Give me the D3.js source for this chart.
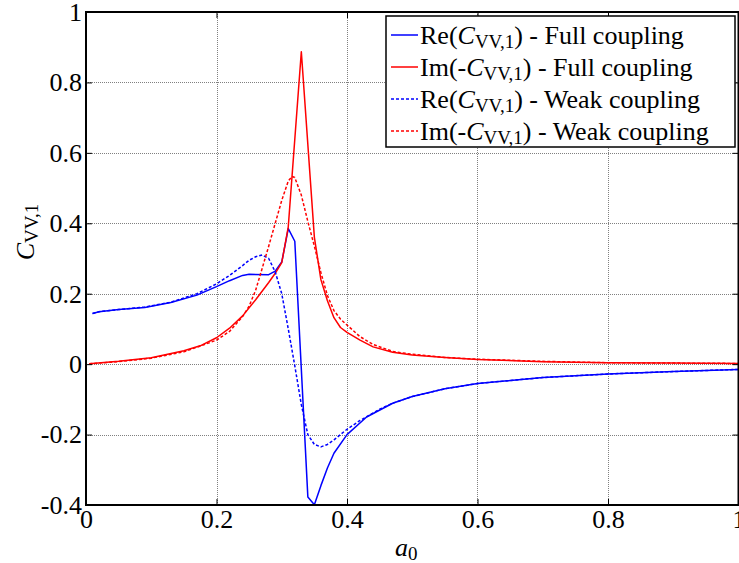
<!DOCTYPE html>
<html>
<head>
<meta charset="utf-8">
<script src="https://cdn.jsdelivr.net/npm/d3@7"></script>
<style>
  html, body { margin: 0; padding: 0; background: #fff; }
  svg { display: block; }
</style>
</head>
<body>
<svg id="chart" width="739" height="563"></svg>
<script>
// Frequency samples (a0) and coefficient values for each series
const reFullA = [0.01, 0.02, 0.05, 0.09, 0.13, 0.17, 0.20, 0.22, 0.24, 0.25, 0.28, 0.29, 0.30, 0.31, 0.32, 0.34, 0.35, 0.36, 0.37, 0.38, 0.40, 0.43, 0.47, 0.50, 0.55, 0.60, 0.70, 0.80, 0.90, 1.00];
const reFullV = [0.144, 0.149, 0.155, 0.161, 0.175, 0.196, 0.220, 0.237, 0.252, 0.255, 0.254, 0.264, 0.290, 0.385, 0.349, -0.377, -0.399, -0.345, -0.295, -0.253, -0.200, -0.150, -0.111, -0.092, -0.070, -0.055, -0.038, -0.028, -0.021, -0.015];

const imFullA = [0.005, 0.05, 0.10, 0.15, 0.175, 0.20, 0.22, 0.24, 0.26, 0.28, 0.29, 0.30, 0.31, 0.33, 0.35, 0.36, 0.37, 0.38, 0.39, 0.40, 0.42, 0.44, 0.47, 0.50, 0.55, 0.60, 0.70, 0.80, 0.90, 1.00];
const imFullV = [0.001, 0.008, 0.018, 0.038, 0.052, 0.075, 0.102, 0.137, 0.183, 0.232, 0.258, 0.288, 0.390, 0.887, 0.360, 0.240, 0.180, 0.132, 0.104, 0.090, 0.068, 0.049, 0.034, 0.026, 0.019, 0.013, 0.007, 0.004, 0.003, 0.002];

const reWeakA = [0.01, 0.02, 0.05, 0.09, 0.13, 0.17, 0.20, 0.22, 0.24, 0.25, 0.26, 0.27, 0.28, 0.29, 0.30, 0.31, 0.32, 0.33, 0.34, 0.35, 0.36, 0.37, 0.38, 0.39, 0.40, 0.42, 0.45, 0.47, 0.50, 0.55, 0.60, 0.70, 0.80, 0.90, 1.00];
const reWeakV = [0.144, 0.149, 0.155, 0.162, 0.176, 0.200, 0.228, 0.252, 0.280, 0.295, 0.305, 0.310, 0.300, 0.262, 0.200, 0.100, -0.005, -0.115, -0.200, -0.228, -0.235, -0.228, -0.215, -0.200, -0.185, -0.160, -0.128, -0.111, -0.092, -0.070, -0.055, -0.038, -0.028, -0.021, -0.015];

const imWeakA = [0.005, 0.05, 0.10, 0.15, 0.20, 0.22, 0.24, 0.25, 0.26, 0.27, 0.28, 0.29, 0.30, 0.31, 0.316, 0.32, 0.33, 0.34, 0.35, 0.36, 0.37, 0.38, 0.39, 0.40, 0.42, 0.44, 0.47, 0.50, 0.55, 0.60, 0.70, 0.80, 0.90, 1.00];
const imWeakV = [0.001, 0.007, 0.017, 0.035, 0.068, 0.093, 0.135, 0.165, 0.210, 0.272, 0.335, 0.400, 0.465, 0.520, 0.533, 0.530, 0.480, 0.405, 0.335, 0.260, 0.195, 0.152, 0.128, 0.111, 0.078, 0.056, 0.036, 0.028, 0.019, 0.014, 0.008, 0.004, 0.003, 0.002];

const xTicks = [0, 0.2, 0.4, 0.6, 0.8, 1];
const yTicks = [-0.4, -0.2, 0, 0.2, 0.4, 0.6, 0.8, 1];

const seriesNames = ["Full coupling", "Full coupling", "Weak coupling", "Weak coupling"];
const seriesParts = ["Re(", "Im(-", "Re(", "Im(-"];

const series = [
  { a: reFullA, v: reFullV, color: "#0000ff", dash: null },
  { a: imFullA, v: imFullV, color: "#ff0000", dash: null },
  { a: reWeakA, v: reWeakV, color: "#0000ff", dash: "3,2" },
  { a: imWeakA, v: imWeakV, color: "#ff0000", dash: "3,2" }
];

const serif = '"Liberation Serif", serif';
const mainSize = "26px", subSize = "19px";

const svg = d3.select("#chart");
const plotLeft = 86, plotRight = 738.5, plotTop = 12, plotBottom = 505;

const x = d3.scaleLinear().domain([0, 1]).range([plotLeft, plotRight]);
const y = d3.scaleLinear().domain([-0.4, 1]).range([plotBottom, plotTop]);

// Grid
const grid = svg.append("g").attr("stroke", "#808080").attr("stroke-width", 1).attr("stroke-dasharray", "1,1");
grid.selectAll("line.gx").data(xTicks.slice(1, -1)).join("line")
  .attr("x1", d => Math.round(x(d)) + 0.5).attr("x2", d => Math.round(x(d)) + 0.5)
  .attr("y1", plotTop).attr("y2", plotBottom);
grid.selectAll("line.gy").data(yTicks.slice(1, -1)).join("line")
  .attr("y1", d => Math.round(y(d)) + 0.5).attr("y2", d => Math.round(y(d)) + 0.5)
  .attr("x1", plotLeft).attr("x2", plotRight);

// Curves
const line = d3.line().x(d => x(d[0])).y(d => y(d[1]));
series.forEach(s => {
  svg.append("path")
    .datum(s.a.map((a, i) => [a, s.v[i]]))
    .attr("fill", "none")
    .attr("stroke", s.color)
    .attr("stroke-width", 1.5)
    .attr("stroke-dasharray", s.dash)
    .attr("stroke-linejoin", "round")
    .attr("d", line);
});

// Axes with inward ticks
const fmt = d => String(+d.toFixed(1));
const axB = svg.append("g").attr("transform", `translate(0,${plotBottom})`)
  .call(d3.axisBottom(x).tickValues(xTicks).tickSize(-6).tickPadding(5).tickFormat(fmt));
const axL = svg.append("g").attr("transform", `translate(${plotLeft},0)`)
  .call(d3.axisLeft(y).tickValues(yTicks).tickSize(-6).tickPadding(4).tickFormat(fmt));
const axT = svg.append("g").attr("transform", `translate(0,${plotTop})`)
  .call(d3.axisTop(x).tickValues(xTicks).tickSize(-6).tickFormat(""));
const axR = svg.append("g").attr("transform", `translate(${plotRight},0)`)
  .call(d3.axisRight(y).tickValues(yTicks).tickSize(-6).tickFormat(""));
[axB, axL, axT, axR].forEach(g => {
  g.attr("font-family", null).attr("font-size", null);
  g.select(".domain").remove();
  g.selectAll(".tick line").attr("stroke", "#000").attr("stroke-width", 1);
  g.selectAll("text").style("font-size", mainSize).style("font-family", serif).attr("fill", "#000");
});

// Frame
svg.append("rect").attr("x", plotLeft).attr("y", plotTop)
  .attr("width", plotRight - plotLeft).attr("height", plotBottom - plotTop)
  .attr("fill", "none").attr("stroke", "#000").attr("stroke-width", 2);

// Axis titles
const xl = svg.append("text").attr("x", x(0.5) - 6).attr("y", 556)
  .style("font-size", mainSize).style("font-family", serif).attr("text-anchor", "middle");
xl.append("tspan").style("font-style", "italic").style("font-family", serif).text("a");
xl.append("tspan").style("font-size", subSize).style("font-family", serif).attr("dy", 4).text("0");

const yl = svg.append("text").attr("transform", `translate(34,${232}) rotate(-90)`)
  .style("font-size", mainSize).style("font-family", serif).attr("text-anchor", "middle");
yl.append("tspan").style("font-style", "italic").style("font-family", serif).text("C");
yl.append("tspan").style("font-size", subSize).style("font-family", serif).attr("dy", 4).text("VV,1");

// Legend
const lg = svg.append("g");
lg.append("rect").attr("x", 386).attr("y", 16).attr("width", 349).attr("height", 131)
  .attr("fill", "#fff").attr("stroke", "#000").attr("stroke-width", 1.5);
series.forEach((s, i) => {
  const cy = 35 + i * 32;
  lg.append("line").attr("x1", 391).attr("x2", 418).attr("y1", cy).attr("y2", cy)
    .attr("stroke", s.color).attr("stroke-width", 1.5).attr("stroke-dasharray", s.dash);
  const t = lg.append("text").attr("x", 420).attr("y", cy + 9)
    .style("font-size", mainSize).style("font-family", serif);
  t.append("tspan").style("font-family", serif).text(seriesParts[i]);
  t.append("tspan").style("font-style", "italic").style("font-family", serif).text("C");
  t.append("tspan").style("font-size", subSize).style("font-family", serif).attr("dy", 4).text("VV,1");
  t.append("tspan").style("font-family", serif).attr("dy", -4).text(") - " + seriesNames[i]);
});
</script>
</body>
</html>
